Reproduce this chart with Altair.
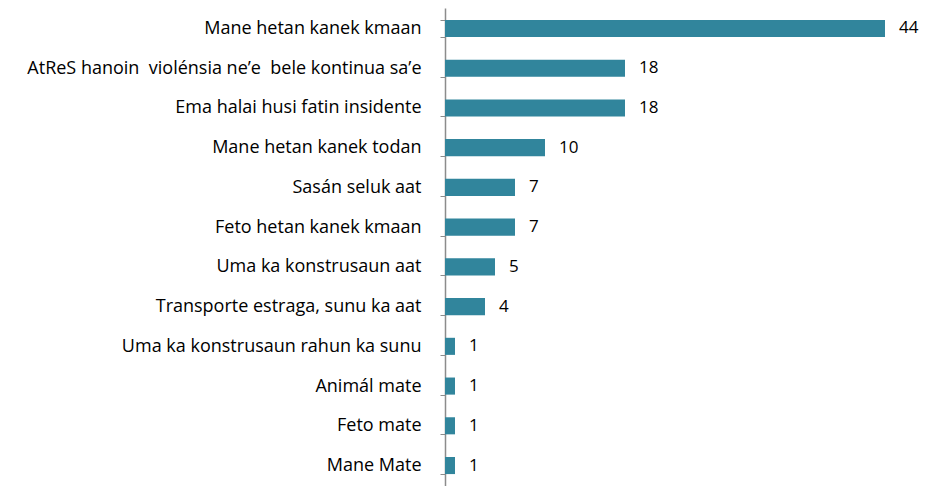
import altair as alt
import pandas as pd

categories = [
    "Mane hetan kanek kmaan",
    "AtReS hanoin \u00a0violénsia ne’e \u00a0bele kontinua sa’e",
    "Ema halai husi fatin insidente",
    "Mane hetan kanek todan",
    "Sasán seluk aat",
    "Feto hetan kanek kmaan",
    "Uma ka konstrusaun aat",
    "Transporte estraga, sunu ka aat",
    "Uma ka konstrusaun rahun ka sunu",
    "Animál mate",
    "Feto mate",
    "Mane Mate",
]
values = [44, 18, 18, 10, 7, 7, 5, 4, 1, 1, 1, 1]

df = pd.DataFrame({"cat": categories, "val": values})

FONT = "Open Sans"
COLOR = "#31859C"

y = alt.Y(
    "cat:N",
    sort=categories,
    title=None,
    scale=alt.Scale(paddingInner=0.57, paddingOuter=0.3),
    axis=alt.Axis(
        labelFont=FONT,
        labelFontSize=18,
        labelColor="#000000",
        labelPadding=19,
        labelLimit=0,
        domainColor="#8c8c8c",
        domainWidth=1.5,
        tickColor="#8c8c8c",
        tickSize=5,
        tickBand="extent",
        grid=False,
    ),
)
x = alt.X(
    "val:Q",
    title=None,
    scale=alt.Scale(domain=[0, 44], nice=False),
    axis=None,
)

bars = alt.Chart(df).mark_bar(color=COLOR).encode(y=y, x=x)
labels = alt.Chart(df).mark_text(
    align="left", baseline="middle", dx=14, font=FONT, fontSize=17, color="#000000"
).encode(y=alt.Y("cat:N", sort=categories), x="val:Q", text="val:Q")

chart = (
    alt.layer(bars, labels)
    .properties(
        width=440,
        height=478,
        background="#ffffff",
        autosize=alt.AutoSizeParams(type="none"),
        padding={"left": 437, "top": 0, "right": 35, "bottom": 0},
    )
    .configure_view(stroke=None, strokeWidth=0)
)

chart.save("out.html", embed_options={"renderer": "svg", "actions": False})
